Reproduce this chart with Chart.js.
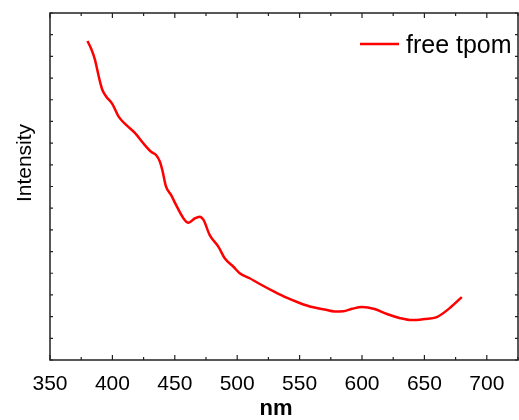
<!DOCTYPE html>
<html>
<head>
<meta charset="utf-8">
<script src="https://cdn.jsdelivr.net/npm/chart.js@4/dist/chart.umd.min.js"></script>
<style>
  body { margin: 0; background: #fff; }
  #wrap { width: 519px; height: 420px; }
</style>
</head>
<body>
<div id="wrap"><canvas id="myChart" width="519" height="420"></canvas></div>
<script>
// wavelength (nm) and intensity (arbitrary units)
const wavelength = [380, 383, 386, 388, 390, 392, 395, 400, 405, 411, 418, 426, 431, 435, 438, 440, 443, 447, 451, 457, 461, 466, 470, 473, 478, 485, 490, 497, 502, 510, 517, 530, 540, 550, 560, 570, 578, 585, 592, 600, 610, 620, 630, 640, 650, 660, 670, 680];
const intensity = [14.71, 14.35, 13.85, 13.35, 12.85, 12.45, 12.15, 11.80, 11.22, 10.84, 10.47, 9.91, 9.60, 9.45, 9.15, 8.76, 7.99, 7.61, 7.15, 6.53, 6.33, 6.53, 6.61, 6.46, 5.76, 5.22, 4.69, 4.30, 4.00, 3.77, 3.54, 3.14, 2.86, 2.63, 2.44, 2.33, 2.24, 2.25, 2.36, 2.44, 2.35, 2.12, 1.94, 1.84, 1.89, 1.98, 2.38, 2.90];
const xTicks = [350, 400, 450, 500, 550, 600, 650, 700];
const seriesLabel = 'free tpom';
const xTitle = 'nm';
const yTitle = 'Intensity';

// frame, inward ticks, titles and legend
const frameTicks = {
    id: 'frameTicks',
    afterDraw(chart) {
        const ctx = chart.ctx;
        const a = chart.chartArea;
        const xs = chart.scales.x;
        const ys = chart.scales.y;
        ctx.save();
        ctx.strokeStyle = '#222';
        ctx.lineWidth = 1.5;
        ctx.strokeRect(a.left, a.top, a.right - a.left, a.bottom - a.top);

        ctx.lineWidth = 1.2;
        ctx.beginPath();
        for (let v = 350; v <= 725; v += 25) {
            const px = xs.getPixelForValue(v);
            const len = v % 50 === 0 ? 5 : 3;
            ctx.moveTo(px, a.bottom);
            ctx.lineTo(px, a.bottom - len);
            ctx.moveTo(px, a.top);
            ctx.lineTo(px, a.top + len);
        }
        for (let v = 0; v <= 16; v++) {
            const py = ys.getPixelForValue(v);
            ctx.moveTo(a.left, py);
            ctx.lineTo(a.left + 3, py);
            ctx.moveTo(a.right, py);
            ctx.lineTo(a.right - 3, py);
        }
        ctx.stroke();

        // axis titles
        ctx.fillStyle = '#000';
        ctx.font = 'bold 22px "Liberation Sans", Arial, sans-serif';
        ctx.textAlign = 'center';
        ctx.textBaseline = 'alphabetic';
        ctx.fillText(xTitle, 276, 415);

        ctx.save();
        ctx.translate(31, 163);
        ctx.rotate(-Math.PI / 2);
        ctx.font = '21px "Liberation Sans", Arial, sans-serif';
        ctx.fillText(yTitle, 0, 0);
        ctx.restore();

        // legend
        const ds = chart.data.datasets[0];
        ctx.strokeStyle = ds.borderColor;
        ctx.lineWidth = 2.5;
        ctx.beginPath();
        ctx.moveTo(360, 44);
        ctx.lineTo(399, 44);
        ctx.stroke();
        ctx.font = '25px "Liberation Sans", Arial, sans-serif';
        ctx.textAlign = 'left';
        ctx.fillText(ds.label, 406, 53);
        ctx.restore();
    }
};

const config = {
    type: 'line',
    data: {
        datasets: [{
            label: seriesLabel,
            data: wavelength.map((w, i) => ({ x: w, y: intensity[i] })),
            borderColor: '#ff0000',
            borderWidth: 2.5,
            pointRadius: 0,
            cubicInterpolationMode: 'monotone',
            fill: false
        }]
    },
    options: {
        responsive: false,
        animation: false,
        layout: {
            padding: { top: 13, right: 1, left: 0, bottom: 0 }
        },
        plugins: {
            legend: { display: false },
            tooltip: { enabled: false }
        },
        scales: {
            x: {
                type: 'linear',
                min: 350,
                max: 725,
                afterBuildTicks: function (scale) {
                    scale.ticks = xTicks.map(v => ({ value: v }));
                },
                afterFit: function (scale) {
                    scale.height = 60;
                },
                ticks: {
                    color: '#000',
                    padding: 4,
                    maxRotation: 0,
                    font: { family: '"Liberation Sans", Arial, sans-serif', size: 21 }
                },
                grid: { display: false },
                border: { display: false }
            },
            y: {
                min: 0,
                max: 16,
                afterFit: function (scale) {
                    scale.width = 50;
                },
                ticks: { display: false },
                grid: { display: false },
                border: { display: false }
            }
        }
    },
    plugins: [frameTicks]
};

new Chart(document.getElementById('myChart'), config);
</script>
</body>
</html>
